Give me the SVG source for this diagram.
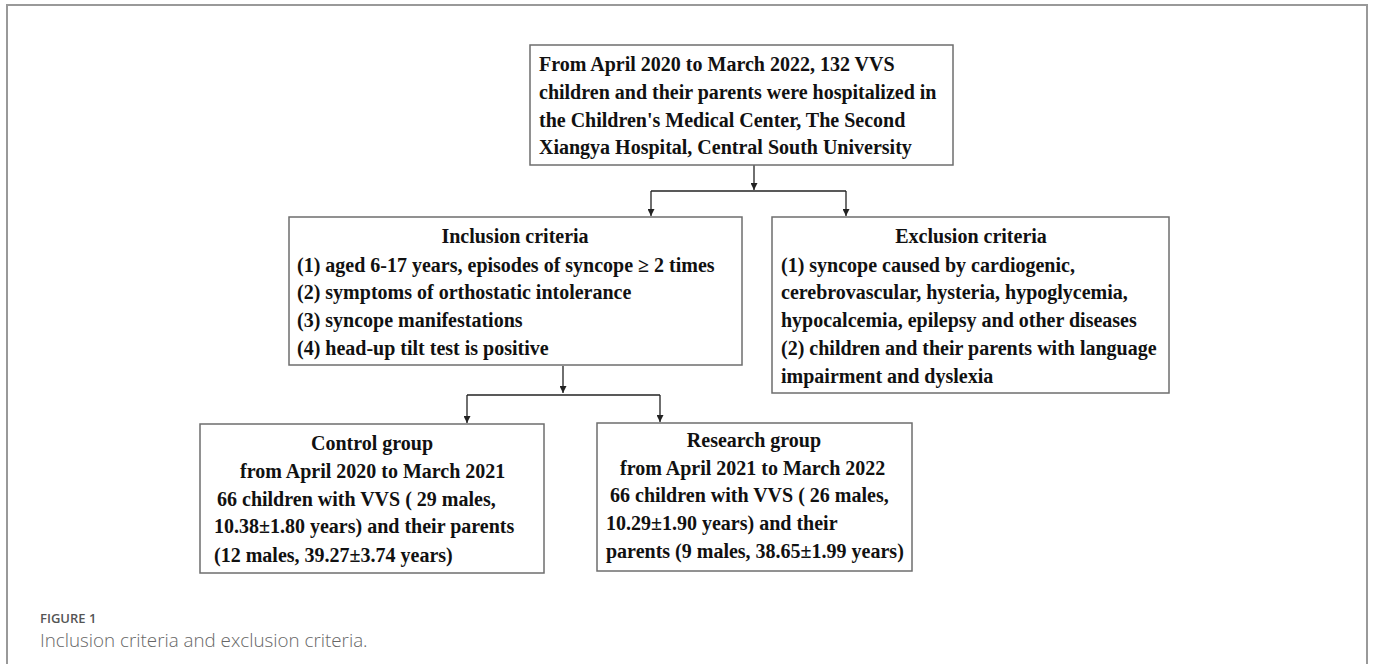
<svg xmlns="http://www.w3.org/2000/svg" width="1373" height="664" viewBox="0 0 1373 664">
<style>
.box{fill:#fff;stroke:#6e6e6e;stroke-width:1.5}
.t{font-family:"Liberation Serif","Times New Roman",serif;font-weight:bold;font-size:20px;fill:#111}
.c{text-anchor:middle}
.ln{stroke:#222;stroke-width:1.3;fill:none}
.cap1{font-family:"Open Sans","Noto Sans",sans-serif;font-size:13px;fill:#555;font-weight:600}
.cap2{font-family:"Open Sans","Noto Sans",sans-serif;font-size:18.8px;fill:#666;font-weight:300}
</style>
<defs>
<marker id="ah" viewBox="0 0 10 10" refX="10" refY="5" markerWidth="7" markerHeight="7" markerUnits="userSpaceOnUse" orient="auto">
<path d="M0,0 L10,5 L0,10 z" fill="#222"/>
</marker>
</defs>
<rect width="1373" height="664" fill="#fff"/>
<g id="frame">
<path d="M7,664 V5 H1367 V664" fill="none" stroke="#999" stroke-width="2"/>
</g>
<g id="connectors">
<path class="ln" d="M754,165 V190" marker-end="url(#ah)"/>
<path class="ln" d="M651,191 H846"/>
<path class="ln" d="M651,191 V216" marker-end="url(#ah)"/>
<path class="ln" d="M846,191 V216" marker-end="url(#ah)"/>
<path class="ln" d="M563,366 V393" marker-end="url(#ah)"/>
<path class="ln" d="M467,395 H660"/>
<path class="ln" d="M467,395 V423" marker-end="url(#ah)"/>
<path class="ln" d="M660,395 V422" marker-end="url(#ah)"/>
</g>
<g id="top">
<rect class="box" x="530" y="45" width="423" height="120"/>
<text class="t" x="539" y="71">From April 2020 to March 2022, 132 VVS</text>
<text class="t" x="539" y="99">children and their parents were hospitalized in</text>
<text class="t" x="539" y="127">the Children's Medical Center, The Second</text>
<text class="t" x="539" y="154">Xiangya Hospital, Central South University</text>
</g>
<g id="inclusion">
<rect class="box" x="289" y="217" width="453" height="148"/>
<text class="t c" x="515" y="243">Inclusion criteria</text>
<text class="t" x="297" y="272">(1) aged 6-17 years, episodes of syncope ≥ 2 times</text>
<text class="t" x="297" y="299">(2) symptoms of orthostatic intolerance</text>
<text class="t" x="297" y="327">(3) syncope manifestations</text>
<text class="t" x="297" y="355">(4) head-up tilt test is positive</text>
</g>
<g id="exclusion">
<rect class="box" x="772" y="217" width="397" height="176"/>
<text class="t c" x="971" y="243">Exclusion criteria</text>
<text class="t" x="781" y="272">(1) syncope caused by cardiogenic,</text>
<text class="t" x="781" y="299">cerebrovascular, hysteria, hypoglycemia,</text>
<text class="t" x="781" y="327">hypocalcemia, epilepsy and other diseases</text>
<text class="t" x="781" y="355">(2) children and their parents with language</text>
<text class="t" x="781" y="383">impairment and dyslexia</text>
</g>
<g id="control">
<rect class="box" x="200" y="424" width="344" height="149"/>
<text class="t c" x="372" y="450">Control group</text>
<text class="t" x="240" y="478">from April 2020 to March 2021</text>
<text class="t" x="217" y="506">66 children with VVS ( 29 males,</text>
<text class="t" x="214" y="533">10.38±1.80 years) and their parents</text>
<text class="t" x="214" y="562">(12 males, 39.27±3.74 years)</text>
</g>
<g id="research">
<rect class="box" x="597" y="423" width="315" height="148"/>
<text class="t c" x="754" y="447">Research group</text>
<text class="t" x="620" y="475">from April 2021 to March 2022</text>
<text class="t" x="610" y="502">66 children with VVS ( 26 males,</text>
<text class="t" x="606" y="530">10.29±1.90 years) and their</text>
<text class="t" x="606" y="558">parents (9 males, 38.65±1.99 years)</text>
</g>
<g id="caption">
<text class="cap1" x="40" y="623">FIGURE 1</text>
<text class="cap2" x="40" y="647">Inclusion criteria and exclusion criteria.</text>
</g>
</svg>
